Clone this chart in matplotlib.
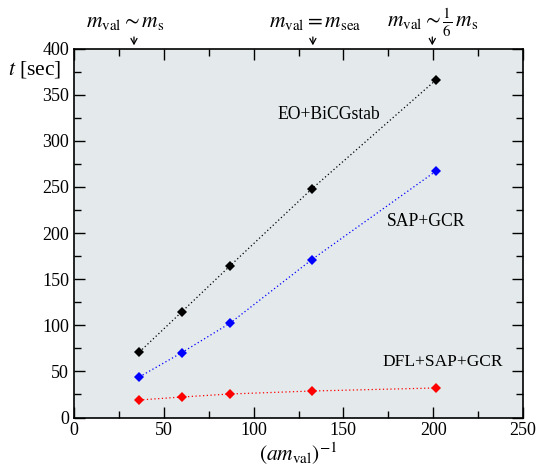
import matplotlib
matplotlib.use("Agg")
import matplotlib.pyplot as plt
from matplotlib.ticker import MultipleLocator

plt.rcParams['font.family'] = ['Liberation Serif', 'DejaVu Serif']
plt.rcParams['mathtext.fontset'] = 'stix'

# data
inv_am = [36.4, 60.0, 87.0, 132.3, 201.6]
t_eo = [71, 114.5, 164.6, 247.6, 366]
t_sap = [44, 70.3, 102.4, 171, 267.2]
t_dfl = [19, 22.2, 25.5, 28.7, 32]

series_labels = ["EO+BiCGstab", "SAP+GCR", "DFL+SAP+GCR"]
arrow_x = [33.4, 133.0, 199.5]
arrow_text_x = [28.7, 134.2, 199.8]
arrow_labels = [r"$m_{\rm val} \sim m_{\rm s}$", r"$m_{\rm val} = m_{\rm sea}$",
                r"$m_{\rm val} \sim \frac{1}{6}\,m_{\rm s}$"]

fig = plt.figure(figsize=(5.38, 4.67), dpi=100)
ax = fig.add_axes([74/538, 1-417.5/467, (523-74)/538, (417.5-48.5)/467])
ax.set_facecolor('#e4eaec')

for y, c in [(t_eo, 'black'), (t_sap, 'blue'), (t_dfl, 'red')]:
    ax.plot(inv_am, y, linestyle=(0, (1, 2)), color=c, lw=0.9,
            marker='D', markersize=5.5, markeredgewidth=0)

ax.set_xlim(0, 250)
ax.set_ylim(0, 400)
ax.xaxis.set_major_locator(MultipleLocator(50))
ax.xaxis.set_minor_locator(MultipleLocator(25))
ax.yaxis.set_major_locator(MultipleLocator(50))
ax.yaxis.set_minor_locator(MultipleLocator(25))
ax.tick_params(which='both', direction='in', top=True, right=True, labelsize=13, width=1)
ax.tick_params(which='major', length=8)
ax.tick_params(which='minor', length=5)
for s in ax.spines.values():
    s.set_linewidth(1.2)

ax.text(142, 328, series_labels[0], fontsize=12.7, ha='center', va='center')
ax.text(196, 212, series_labels[1], fontsize=12.7, ha='center', va='center')
ax.text(205.5, 60.5, series_labels[2], fontsize=12.5, ha='center', va='center')

ax.set_xlabel(r"$(am_{\rm val})^{-1}$", fontsize=15.5, labelpad=1)
fig.text(8/538, 1-70/467, r"$t$ [sec]", fontsize=15.5, ha='left', va='center')

for xv, tx, lab in zip(arrow_x, arrow_text_x, arrow_labels):
    ax.annotate('', xy=(xv, 403.5), xytext=(xv, 412.5), xycoords='data', textcoords='data',
                arrowprops=dict(arrowstyle='->,head_length=0.4,head_width=0.22', lw=0.9,
                                color='black', shrinkA=0, shrinkB=0),
                annotation_clip=False)
    ax.text(tx, 423.3, lab, fontsize=15.5, ha='center', va='baseline', clip_on=False)

fig.savefig("out.png", dpi=100)
